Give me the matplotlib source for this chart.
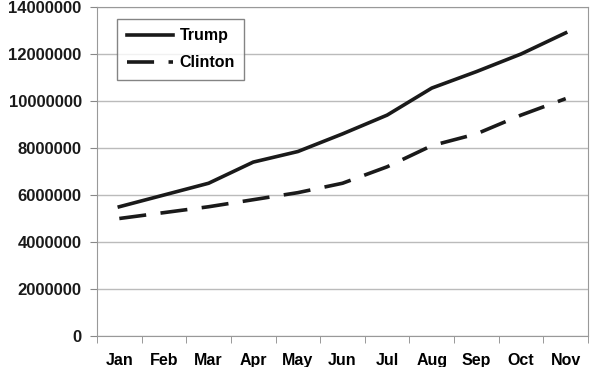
import numpy as np
import matplotlib.pyplot as plt

months = ['Jan', 'Feb', 'Mar', 'Apr', 'May', 'Jun', 'Jul', 'Aug', 'Sep', 'Oct', 'Nov']
trump = [5500000, 6000000, 6500000, 7400000, 7850000, 8600000, 9400000, 10550000, 11250000, 12000000, 12900000]
clinton = [5000000, 5250000, 5500000, 5800000, 6100000, 6500000, 7200000, 8100000, 8600000, 9400000, 10100000]

plt.rcParams['font.family'] = 'Liberation Sans'
plt.rcParams['font.weight'] = 'bold'

fig = plt.figure(figsize=(5.9, 3.67), dpi=100)
ax = fig.add_axes([97/590, 1 - 336/367, 491/590, 329/367])

x = np.arange(len(months))
ax.plot(x, trump, color='#1a1a1a', lw=2.6, label='Trump')
ax.plot(x, clinton, color='#1a1a1a', lw=2.6, dashes=(7.5, 4), label='Clinton')

ax.set_xlim(-0.5, len(months) - 0.5)
ax.set_ylim(0, 14000000)
ax.set_yticks(np.arange(0, 14000001, 2000000))
ax.set_yticklabels(['%d' % v for v in np.arange(0, 14000001, 2000000)], fontsize=12, fontweight='bold')
ax.set_xticks(x)
ax.set_xticklabels(months, fontsize=11.5, fontweight='bold')
ax.set_xticks(np.arange(-0.5, len(months)), minor=True)
ax.tick_params(axis='x', which='major', length=0, pad=12)
ax.tick_params(axis='x', which='minor', length=5, color='#888888')
ax.tick_params(axis='y', length=5, color='#888888', pad=6, colors='#1a1a1a')
ax.tick_params(axis='y', color='#888888')
ax.grid(axis='y', color='#bbbbbb', lw=1)
ax.set_axisbelow(True)
for s in ax.spines.values():
    s.set_color('#999999')

leg = ax.legend(loc='upper left', bbox_to_anchor=(0.041, 0.964), borderaxespad=0, fancybox=False,
                edgecolor='#666666', prop={'size': 11.5, 'weight': 'bold'}, handlelength=2.9,
                handletextpad=0.4, borderpad=0.6, labelspacing=0.75)
leg.get_frame().set_linewidth(1)

plt.savefig('out.png')
